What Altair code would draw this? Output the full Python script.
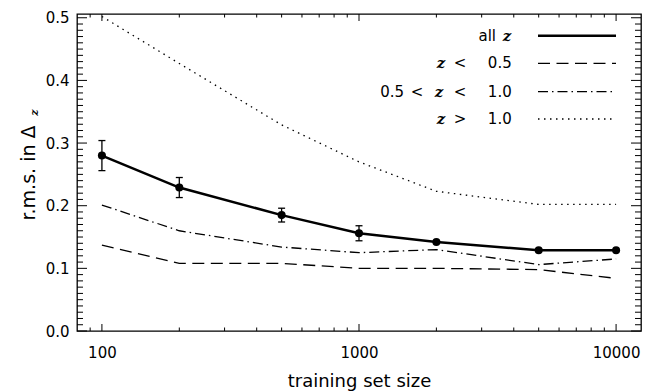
import altair as alt
import pandas as pd

# ---------------- data ----------------
sizes = [100, 200, 500, 1000, 2000, 5000, 10000]
rms_all = [0.280, 0.229, 0.185, 0.156, 0.142, 0.129, 0.129]
err_all = [0.024, 0.016, 0.011, 0.012, 0.0, 0.0, 0.0]
rms_low = [0.137, 0.108, 0.108, 0.100, 0.100, 0.098, 0.084]    # z < 0.5
rms_mid = [0.201, 0.160, 0.134, 0.125, 0.130, 0.106, 0.115]    # 0.5 < z < 1.0
rms_high = [0.502, 0.427, 0.329, 0.270, 0.223, 0.202, 0.202]   # z > 1.0

x_major = [100, 1000, 10000]
x_minor = [90, 200, 300, 400, 500, 600, 700, 800, 900,
           2000, 3000, 4000, 5000, 6000, 7000, 8000, 9000]
y_major = [0.0, 0.1, 0.2, 0.3, 0.4, 0.5]
y_minor = [round(i * 0.01, 2) for i in range(1, 51) if i % 10]

# ---------------- layout / style ----------------
W, H = 564, 317
FONT = "DejaVu Sans"
ZFONT = "DejaVu Serif"
INK = "black"

xs = alt.Scale(type="log", domain=[80, 12500], nice=False)
ys = alt.Scale(domain=[0, 0.506], nice=False, zero=False)

x_axis = alt.Axis(values=x_major, format="d", labelFont=FONT, labelFontSize=15,
                  labelColor=INK, labelPadding=14, labelFlush=False, labelOverlap=False,
                  ticks=False, domain=False, grid=False,
                  title="training set size", titleFont=FONT, titleFontSize=18,
                  titleFontWeight="normal", titleColor=INK, titlePadding=12)
y_axis = alt.Axis(values=y_major, format=".1f", labelFont=FONT, labelFontSize=15,
                  labelColor=INK, labelPadding=8, labelFlush=False, labelOverlap=False,
                  ticks=False, domain=False, grid=False, title=None)


def X():
    return alt.X("n:Q", scale=xs, axis=x_axis)


def Y(field="v"):
    return alt.Y(f"{field}:Q", scale=ys, axis=y_axis)


df_all = pd.DataFrame({"n": sizes, "v": rms_all, "e": err_all})
df_all["lo"] = df_all["v"] - df_all["e"]
df_all["hi"] = df_all["v"] + df_all["e"]
df_err = df_all[df_all["e"] > 0]

layers = []

# main line with points and error bars
layers.append(alt.Chart(df_all).mark_line(color=INK, strokeWidth=2.5)
              .encode(x=X(), y=Y("v")))
layers.append(alt.Chart(df_err).mark_rule(color=INK, strokeWidth=1.3)
              .encode(x=X(), y=Y("lo"), y2=alt.Y2("hi")))
for f in ["lo", "hi"]:
    layers.append(alt.Chart(df_err).mark_rule(color=INK, strokeWidth=1.3,
                                              xOffset=-3.5, x2Offset=3.5)
                  .encode(x=X(), x2=alt.X2("n"), y=Y(f)))
layers.append(alt.Chart(df_all).mark_circle(color=INK, opacity=1, size=65)
              .encode(x=X(), y=Y("v")))

DASH_LOW = [12, 6.5]
DASH_MID = [10, 4, 1.5, 4]
DASH_HIGH = [1.5, 4.5]

for vals, dash in [(rms_low, DASH_LOW), (rms_mid, DASH_MID), (rms_high, DASH_HIGH)]:
    d = pd.DataFrame({"n": sizes, "v": vals})
    layers.append(alt.Chart(d).mark_line(color=INK, strokeWidth=1.3, strokeDash=dash)
                  .encode(x=X(), y=Y("v")))

# inward ticks on all four sides
dxmaj = pd.DataFrame({"n": x_major})
dxmin = pd.DataFrame({"n": x_minor})
dymaj = pd.DataFrame({"v": y_major})
dymin = pd.DataFrame({"v": y_minor})
for d, L in [(dxmaj, 7), (dxmin, 3.5)]:
    layers.append(alt.Chart(d).mark_rule(color=INK, strokeWidth=1)
                  .encode(x=X(), y=alt.value(H), y2=alt.value(H - L)))
    layers.append(alt.Chart(d).mark_rule(color=INK, strokeWidth=1)
                  .encode(x=X(), y=alt.value(0), y2=alt.value(L)))
for d, L in [(dymaj, 10), (dymin, 6)]:
    layers.append(alt.Chart(d).mark_rule(color=INK, strokeWidth=1)
                  .encode(y=Y("v"), x=alt.value(0), x2=alt.value(L)))
    layers.append(alt.Chart(d).mark_rule(color=INK, strokeWidth=1)
                  .encode(y=Y("v"), x=alt.value(W), x2=alt.value(W - L)))

# y-axis title  r.m.s. in Δ_z
one = pd.DataFrame({"k": [0]})
layers.append(alt.Chart(one).mark_text(text="r.m.s. in Δ", angle=270, align="center",
                                       baseline="middle", font=FONT, fontSize=19, color=INK)
              .encode(x=alt.value(-48), y=alt.value(159)))
layers.append(alt.Chart(one).mark_text(text="z", angle=270, align="center",
                                       baseline="middle", font=ZFONT, fontSize=11,
                                       fontStyle="italic", fontWeight="bold", color=INK)
              .encode(x=alt.value(-42), y=alt.value(98.5)))

# legend
LX1, LX2 = 461, 539
rows_y = [21.7, 49.3, 77.7, 105]
legend_dash = [None, DASH_LOW, DASH_MID, DASH_HIGH]
for yy, dash in zip(rows_y, legend_dash):
    kw = dict(color=INK, strokeWidth=2.5 if dash is None else 1.3)
    if dash is not None:
        kw["strokeDash"] = dash
    layers.append(alt.Chart(one).mark_rule(**kw)
                  .encode(x=alt.value(LX1), x2=alt.value(LX2), y=alt.value(yy)))

# legend text pieces: (text, is_z, align, x, row)
pieces = [
    ("all", False, "right", 419, 0), ("z", True, "center", 430, 0),
    ("z", True, "center", 364, 1), ("<", False, "center", 383, 1), ("0.5", False, "right", 434.7, 1),
    ("0.5", False, "right", 327, 2), ("<", False, "center", 340, 2), ("z", True, "center", 362, 2),
    ("<", False, "center", 383, 2), ("1.0", False, "right", 434.7, 2),
    ("z", True, "center", 364, 3), (">", False, "center", 383, 3), ("1.0", False, "right", 434.7, 3),
]
for txt, isz, al, xx, r in pieces:
    mk = dict(text=txt, align=al, baseline="middle", color=INK, fontSize=15,
              font=ZFONT if isz else FONT)
    if isz:
        mk["fontStyle"] = "italic"
        mk["fontWeight"] = "bold"
    layers.append(alt.Chart(one).mark_text(**mk)
                  .encode(x=alt.value(xx), y=alt.value(rows_y[r])))

chart = (alt.layer(*layers)
         .properties(width=W, height=H, background="white",
                     padding={"left": 77, "top": 14, "right": 4, "bottom": 61},
                     autosize=alt.AutoSizeParams(type="none"))
         .configure_view(stroke=INK, strokeWidth=1.3))

chart.save("out.html", embed_options={"renderer": "svg", "actions": False})
